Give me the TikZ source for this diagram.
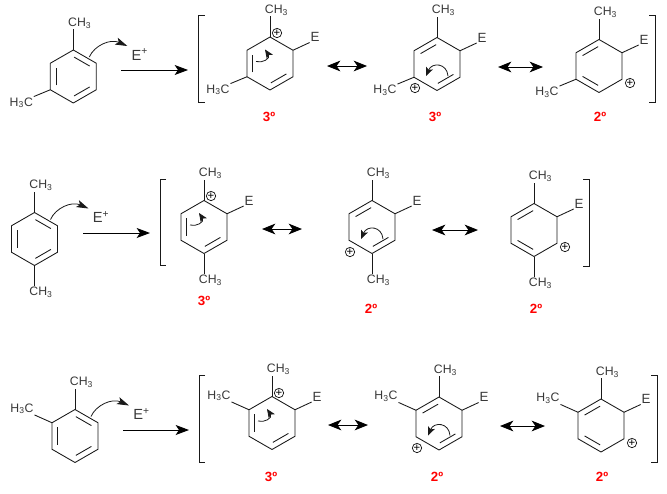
\documentclass[tikz,border=0pt]{standalone}
\usepackage{fontspec}
\setmainfont{Liberation Sans}
\usetikzlibrary{calc,arrows.meta}
\definecolor{ink}{gray}{0.1}
\definecolor{labelgray}{gray}{0.22}
\tikzset{
  bond/.style={draw=ink,line width=0.65pt,line join=round},
  inner bond/.style={draw=ink,line width=0.65pt,shorten <=0.75pt,shorten >=0.75pt},
  atom/.style={inner sep=0.5pt,text=labelgray,font=\fontsize{9.2}{9.2}\selectfont},
  elabel/.style={inner sep=0.5pt,text=labelgray,font=\fontsize{10}{10}\selectfont},
  eplus/.style={inner sep=0pt,text=labelgray,font=\fontsize{11}{11}\selectfont},
  degree/.style={inner sep=0pt,text=red,font=\fontsize{10}{10}\selectfont\bfseries},
  charge/.style={circle,draw=ink,line width=0.55pt,minimum size=7pt,inner sep=0pt,text=black,font=\fontsize{8.5}{8.5}\selectfont},
  rxn arrow/.style={draw=black,line width=0.7pt,-{Stealth[length=10pt,width=7.5pt,inset=2.5pt]}},
  eq arrow/.style={draw=black,line width=0.7pt,{Stealth[length=10pt,width=8pt,inset=2.8pt]}-{Stealth[length=10pt,width=8pt,inset=2.8pt]}},
  lone arrow/.style={draw=ink,line width=0.6pt,-{Stealth[length=9pt,width=5.5pt,inset=2pt]}},
  small curl/.style={draw=ink,line width=0.6pt,-{Stealth[length=6.5pt,width=5.5pt,inset=1.5pt]}},
  brace line/.style={draw=ink,line width=0.75pt,line join=miter},
}
% ring: v1 top, clockwise
\newcommand{\mkring}[3]{%
  \coordinate (#1c) at (#2,#3);
  \coordinate (#1v1) at ($(#1c)+(0,-26.5)$);
  \coordinate (#1v2) at ($(#1c)+(23,-13.25)$);
  \coordinate (#1v3) at ($(#1c)+(23,13.25)$);
  \coordinate (#1v4) at ($(#1c)+(0,26.5)$);
  \coordinate (#1v5) at ($(#1c)+(-23,13.25)$);
  \coordinate (#1v6) at ($(#1c)+(-23,-13.25)$);
  \draw[bond] (#1v1)--(#1v2)--(#1v3)--(#1v4)--(#1v5)--(#1v6)--cycle;
}
\newcommand{\dbl}[3]{\draw[inner bond] ($(#1v#2)!0.25!(#1c)$)--($(#1v#3)!0.25!(#1c)$);}
\newcommand{\topme}[1]{%
  \node[atom] (#1top) at ($(#1v1)+(6.5,-27)$) {CH\textsubscript{3}};
  \draw[bond] (#1v1)--(#1top.south -| #1v1);}
\newcommand{\botme}[1]{%
  \node[atom] (#1bot) at ($(#1v4)+(6.5,27)$) {CH\textsubscript{3}};
  \draw[bond] (#1v4)--(#1bot.north -| #1v4);}
\newcommand{\lowme}[1]{%
  \node[atom] (#1low) at ($(#1v5)+(-29,13)$) {H\textsubscript{3}C};
  \draw[bond] (#1v5)--(#1low.north east);}
\newcommand{\upme}[1]{%
  \node[atom] (#1up) at ($(#1v6)+(-30,-14)$) {H\textsubscript{3}C};
  \draw[bond] (#1v6)--(#1up.south east);}
\newcommand{\elec}[1]{%
  \node[elabel] (#1e) at ($(#1c)+(45,-26.5)$) {E};
  \draw[bond] (#1v2)--(#1e.south west);}
\newcommand{\chg}[3]{\node[charge] (#1q) at ($(#1c)+(#2,#3)$) {+};}
\newcommand{\curlA}[1]{%
  \coordinate (#1ca) at ($(#1c)+(-14,-2)$);
  \coordinate (#1cb) at ($(#1c)+(-5,-14)$);
  \draw[small curl] (#1ca) .. controls ($(#1c)+(-8,0)$) and ($(#1c)+(1,-5)$) .. (#1cb);}
\newcommand{\curlB}[1]{%
  \coordinate (#1ca) at ($(#1c)+(11,12)$);
  \coordinate (#1cb) at ($(#1c)+(-11,12)$);
  \draw[small curl] (#1ca) .. controls ($(#1c)+(10,-1)$) and ($(#1c)+(-5,-2)$) .. (#1cb);}
\newcommand{\attack}[1]{%
  \coordinate (#1ca) at ($(#1c)+(16,-19.5)$);
  \coordinate (#1cb) at ($(#1c)+(54,-30.5)$);
  \node[eplus] (#1ep) at ($(#1c)+(66.5,-22)$) {E\textsuperscript{+}};
  \draw[lone arrow] (#1ca) .. controls ($(#1c)+(21,-31)$) and ($(#1c)+(37,-38)$) .. (#1cb);}
\newcommand{\arrowbetween}[5]{%
  \coordinate (#1a) at (#3,#5);
  \coordinate (#1b) at (#4,#5);
  \draw[#2] (#1a)--(#1b);}
\newcommand{\brL}[4]{%
  \coordinate (#1a) at ($(#2,#3)+(6,0)$);
  \coordinate (#1b) at (#2,#3);
  \coordinate (#1c) at (#2,#4);
  \coordinate (#1d) at ($(#2,#4)+(6,0)$);
  \draw[brace line] (#1a)--(#1b)--(#1c)--(#1d);}
\newcommand{\brR}[4]{%
  \coordinate (#1a) at ($(#2,#3)+(-6,0)$);
  \coordinate (#1b) at (#2,#3);
  \coordinate (#1c) at (#2,#4);
  \coordinate (#1d) at ($(#2,#4)+(-6,0)$);
  \draw[brace line] (#1a)--(#1b)--(#1c)--(#1d);}
\begin{document}
\begin{tikzpicture}[x=0.75pt,y=-0.75pt]
\useasboundingbox (0,0) rectangle (667,493);
% ---- row 1
\mkring{ar}{73.3}{76.5}\dbl{ar}{1}{2}\dbl{ar}{3}{4}\dbl{ar}{5}{6}\topme{ar}\lowme{ar}\attack{ar}
\mkring{aa}{270}{63.5}\dbl{aa}{3}{4}\dbl{aa}{5}{6}\topme{aa}\lowme{aa}\elec{aa}\chg{aa}{7}{-30.5}\curlA{aa}
\mkring{ab}{437}{64}\dbl{ab}{6}{1}\dbl{ab}{3}{4}\topme{ab}\lowme{ab}\elec{ab}\chg{ab}{-22}{24}\curlB{ab}
\mkring{ac}{599}{66}\dbl{ac}{6}{1}\dbl{ac}{4}{5}\topme{ac}\lowme{ac}\elec{ac}\chg{ac}{31}{17}
\arrowbetween{af}{rxn arrow}{121}{188}{70}
\arrowbetween{ag}{eq arrow}{327}{367}{66}
\arrowbetween{ah}{eq arrow}{498}{543}{67}
\brL{ai}{198.5}{15}{102}
\brR{aj}{655}{15}{102}
\node[degree] (ad1) at (269,117) {3º};
\node[degree] (ad2) at (435,117) {3º};
\node[degree] (ad3) at (600,117) {2º};
% ---- row 2
\mkring{br}{34.5}{239}\dbl{br}{1}{2}\dbl{br}{3}{4}\dbl{br}{5}{6}\topme{br}\botme{br}\attack{br}
\mkring{ba}{204}{227}\dbl{ba}{3}{4}\dbl{ba}{5}{6}\topme{ba}\botme{ba}\elec{ba}\chg{ba}{7}{-31}\curlA{ba}
\mkring{bb}{372}{227}\dbl{bb}{6}{1}\dbl{bb}{3}{4}\topme{bb}\botme{bb}\elec{bb}\chg{bb}{-22}{25}\curlB{bb}
\mkring{bc}{534}{230}\dbl{bc}{6}{1}\dbl{bc}{4}{5}\topme{bc}\botme{bc}\elec{bc}\chg{bc}{31}{17}
\arrowbetween{bf}{rxn arrow}{83}{150}{233}
\arrowbetween{bg}{eq arrow}{262}{302}{229}
\arrowbetween{bh}{eq arrow}{432}{478}{230}
\brL{bi}{160}{179}{265}
\brR{bj}{589}{179}{266}
\node[degree] (bd1) at (204,301) {3º};
\node[degree] (bd2) at (371,309) {2º};
\node[degree] (bd3) at (536,309) {2º};
% ---- row 3
\mkring{cr}{75}{436}\dbl{cr}{1}{2}\dbl{cr}{3}{4}\dbl{cr}{5}{6}\topme{cr}\upme{cr}\attack{cr}
\mkring{ca}{272}{423}\dbl{ca}{3}{4}\dbl{ca}{5}{6}\topme{ca}\upme{ca}\elec{ca}\chg{ca}{7}{-30}\curlA{ca}
\mkring{cb}{439}{423.5}\dbl{cb}{6}{1}\dbl{cb}{3}{4}\topme{cb}\upme{cb}\elec{cb}\chg{cb}{-22}{24.5}\curlB{cb}
\mkring{cc}{601}{425.5}\dbl{cc}{6}{1}\dbl{cc}{4}{5}\topme{cc}\upme{cc}\elec{cc}\chg{cc}{31}{17.5}
\arrowbetween{cf}{rxn arrow}{123}{189}{430}
\arrowbetween{cg}{eq arrow}{328}{368}{425}
\arrowbetween{ch}{eq arrow}{500}{545}{426}
\brL{ci}{199}{375}{462}
\brR{cj}{657}{375}{462}
\node[degree] (cd1) at (271,477) {3º};
\node[degree] (cd2) at (437,477) {2º};
\node[degree] (cd3) at (602,477) {2º};
\end{tikzpicture}
\end{document}
